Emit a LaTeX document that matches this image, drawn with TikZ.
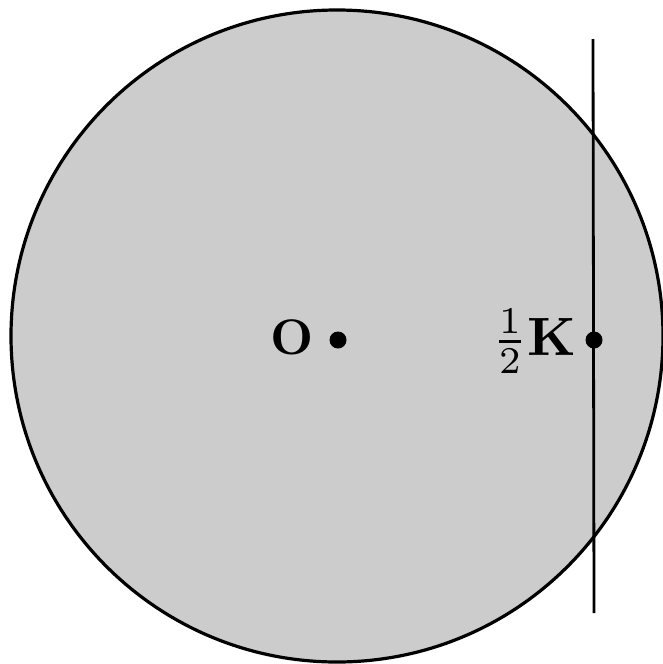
\documentclass[tikz,border=0pt]{standalone}
\usepackage{amsmath}
\begin{document}
\begin{tikzpicture}[x=1pt,y=-1pt,
  disc/.style={draw=black,line width=3.2pt,fill=black!20},
  rim/.style={line width=2.8pt},
  pt/.style={circle,fill=black,inner sep=0pt,minimum size=17pt},
  lab/.style={inner sep=0pt,scale=5,font=\bfseries}]
\useasboundingbox (0,0) rectangle (662,664);
\draw[disc] (337,336) circle[radius=326];
\coordinate (top) at (593,39);
\coordinate (bot) at (594,613);
\draw[rim] (top) -- (bot);
\node[pt] (O) at (338,340) {};
\node[pt] (K) at (594,340) {};
\node[lab,anchor=base east] (Olab) at (315,354) {O};
\node[lab,scale=1.08,anchor=base east] (Klab) at (577,355) {$\frac{1}{2}\mathbf{K}$};
\end{tikzpicture}
\end{document}
